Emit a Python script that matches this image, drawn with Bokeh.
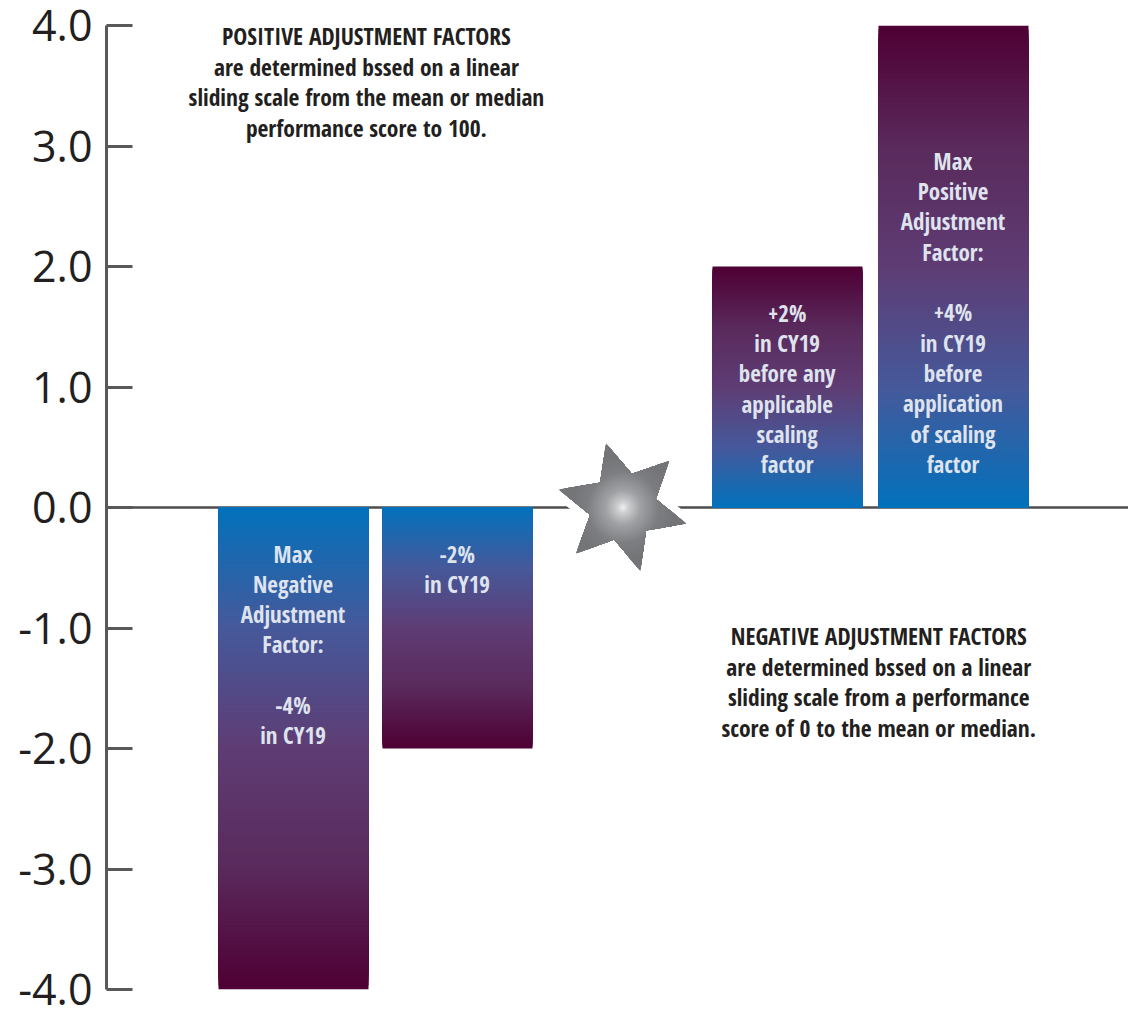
import numpy as np
from bokeh.plotting import figure
from bokeh.models import Range1d, FixedTicker, NumeralTickFormatter
from bokeh.core.properties import value
from bokeh.embed import file_html
from bokeh.resources import INLINE

# --- data ---
bar_positions = [0.003, 0.997, 2.997, 4.003]
bar_values = [-4.0, -2.0, 2.0, 4.0]
y_ticks = [-4, -3, -2, -1, 0, 1, 2, 3, 4]
bar_labels = [
    (0, -0.382, ["Max", "Negative", "Adjustment", "Factor:", "", "-4%", "in CY19"]),
    (0.995, -0.382, ["-2%", "in CY19"]),
    (2.995, 1.617, ["+2%", "in CY19", "before any", "applicable", "scaling", "factor"]),
    (4, 2.877, ["Max", "Positive", "Adjustment", "Factor:", "", "+4%", "in CY19", "before",
                "application", "of scaling", "factor"]),
]
notes = [
    (0.445, 3.91, ["POSITIVE ADJUSTMENT FACTORS", "are determined bssed on a linear",
                   "sliding scale from the mean or median", "performance score to 100."]),
    (3.55, -1.07, ["NEGATIVE ADJUSTMENT FACTORS", "are determined bssed on a linear",
                   "sliding scale from a performance", "score of 0 to the mean or median."]),
]
star_position = 2
# star outline, alternating tip / notch, in bar-slot units (x) and axis units (y) around its centre
star_x = [-0.103, 0.054, 0.281, 0.199, 0.384, 0.140, 0.105, -0.053, -0.285, -0.199, -0.390, -0.139]
star_y = [0.532, 0.279, 0.388, 0.070, -0.133, -0.191, -0.527, -0.266, -0.382, -0.061, 0.149, 0.206]

# --- layout constants ---
W, H = 1128, 1010
LEFT, TOP, BOTTOM = 106, 25, 21
PX_X, PX_Y = 165.0, 120.5
HALF_BAR = 75.0 / PX_X
LINE_STEP = 0.2515
NOTE_STEP = 0.2525
GRADIENT = [(0.0, (0, 114, 188)), (0.25, (69, 89, 155)), (0.5, (94, 61, 116)),
            (0.75, (90, 42, 92)), (1.0, (79, 0, 52))]
STAR_STOPS = [(0.0, (245, 245, 245)), (0.12, (205, 206, 208)), (0.35, (160, 161, 164)),
              (0.7, (125, 126, 129)), (1.0, (116, 117, 120))]
TEXT_FONT = "Open Sans Condensed"


def mix(stops, t):
    rgb = [np.interp(t, [s[0] for s in stops], [s[1][i] for s in stops]) for i in range(3)]
    return "#%02x%02x%02x" % tuple(int(round(c)) for c in rgb)


x0 = -(292.5 - LEFT) / PX_X
x1 = x0 + (W - LEFT) / PX_X

p = figure(width=W, height=H, output_backend="svg", toolbar_location=None,
           x_range=Range1d(x0, x1), y_range=Range1d(-4, 4),
           min_border_left=LEFT, min_border_right=0, min_border_top=TOP, min_border_bottom=BOTTOM,
           outline_line_color=None, background_fill_color="white", border_fill_color="white")
p.grid.visible = False
p.xaxis.visible = False

ax = p.yaxis[0]
ax.ticker = FixedTicker(ticks=y_ticks)
ax.formatter = NumeralTickFormatter(format="0.0")
ax.axis_line_color = "#58595b"
ax.axis_line_width = 3
ax.major_tick_line_color = "#58595b"
ax.major_tick_line_width = 3
ax.major_tick_in = 26
ax.major_tick_out = 0
ax.minor_tick_line_color = None
ax.major_label_text_font = "Open Sans"
ax.major_label_text_font_size = "43px"
ax.major_label_text_color = "#231f20"
ax.major_label_standoff = 14

# baseline
p.line([x0, x1], [0, 0], line_color="#4d4d4f", line_width=2.6)

# star geometry
sx = np.array(star_x)
sy = np.array(star_y)
cx = np.append(sx, sx[0])
cy = np.append(sy, sy[0])
dense_x = np.concatenate([np.linspace(cx[i], cx[i + 1], 16, endpoint=False) for i in range(len(sx))])
dense_y = np.concatenate([np.linspace(cy[i], cy[i + 1], 16, endpoint=False) for i in range(len(sy))])
radius = np.hypot(dense_x * PX_X, dense_y * PX_Y)

# white halo cutting the baseline around the star
p.patch(star_position + sx, sy, fill_color="white", line_color="white", line_width=16, line_join="round")

# gradient bars: nested rectangles painted from the far end back to the baseline
for pos, val in zip(bar_positions, bar_values):
    ts = np.linspace(1, 0, 121)[:-1]
    left = [pos - HALF_BAR] * len(ts)
    right = [pos + HALF_BAR] * len(ts)
    bottom = [min(0, val * t) for t in ts]
    top = [max(0, val * t) for t in ts]
    colors = [mix(GRADIENT, t) for t in ts]
    p.quad(left=left, right=right, bottom=bottom, top=top, fill_color=colors, line_color=None)

# star with a radial gradient
R_MAX = radius.max()
for r in np.linspace(R_MAX, 1.5, 48):
    k = np.minimum(1.0, r / radius)
    p.patch(star_position + dense_x * k, dense_y * k, fill_color=mix(STAR_STOPS, r / 52.0), line_color=None)

# texts
for pos, top, lines in bar_labels:
    ys = [top - i * LINE_STEP for i in range(len(lines))]
    p.text([pos] * len(lines), ys, text=lines, text_font=value(TEXT_FONT), text_font_style="bold",
           text_font_size="23px", text_color="#dfe3ee", text_align="center", text_baseline="middle")
for pos, top, lines in notes:
    ys = [top - i * NOTE_STEP for i in range(len(lines))]
    p.text([pos] * len(lines), ys, text=lines, text_font=value(TEXT_FONT), text_font_style="bold",
           text_font_size="23.5px", text_color="#231f20", text_align="center", text_baseline="middle")

open("out.html", "w").write(file_html(p, INLINE))
